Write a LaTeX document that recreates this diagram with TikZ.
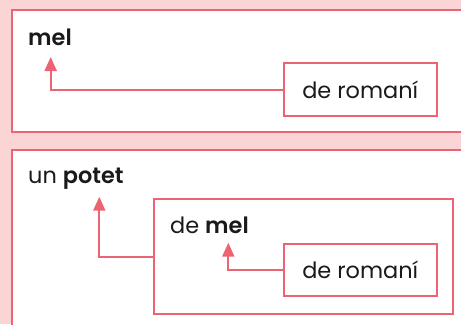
\documentclass[tikz,border=0pt]{standalone}
\usepackage{fontspec}
\setmainfont{Poppins}[BoldFont={Poppins SemiBold}]
\usetikzlibrary{arrows.meta,positioning}
\definecolor{bgpink}{HTML}{FBD5D6}
\definecolor{linered}{HTML}{EC6474}
\definecolor{txt}{HTML}{1A1A1A}
\tikzset{
  panel/.style={draw=linered, fill=white, line width=2bp, rectangle, anchor=north west, inner sep=0pt},
  wordbox/.style={draw=linered, fill=white, line width=2bp, rectangle, inner sep=0pt, font=\fontsize{22.5}{26}\selectfont, text=txt},
  word/.style={inner sep=0pt, anchor=base west, font=\fontsize{22.5}{26}\selectfont, text=txt},
  link/.style={draw=linered, line width=2bp, -{Triangle[width=12bp,length=14bp]}},
}
\begin{document}
\begin{tikzpicture}[x=1bp,y=-1bp]
\useasboundingbox (0,0) rectangle (461,324);
\clip (0,0) rectangle (461,324);
\fill[bgpink] (0,0) rectangle (461,324);
% panel 1
\node[panel, minimum width=470bp, minimum height=121.4bp] (p1) at (11,9.3) {};
\node[word] (mel1) at (28,45) {\textbf{mel}};
\node[wordbox, minimum width=153bp, minimum height=52.4bp] (r1) at (360.2,89.5) {de romaní};
\coordinate (t1) at (50.7,57);
\draw[link] (r1.west) -| (t1);
% panel 2
\node[panel, minimum width=470bp, minimum height=200bp] (p2) at (11,149.3) {};
\node[word] (potet) at (28,183.3) {un \textbf{potet}};
\node[wordbox, minimum width=299.3bp, minimum height=114.4bp, anchor=north west] (b2) at (152.7,198.3) {};
\node[word] (mel2) at (170,233.3) {de \textbf{mel}};
\node[wordbox, minimum width=153bp, minimum height=51.7bp] (r2) at (360.2,269.85) {de romaní};
\coordinate (t2) at (99.3,196.7);
\coordinate (t3) at (228.3,242.7);
\draw[link] (b2.west) -| (t2);
\draw[link] (r2.west) -| (t3);
\end{tikzpicture}
\end{document}
